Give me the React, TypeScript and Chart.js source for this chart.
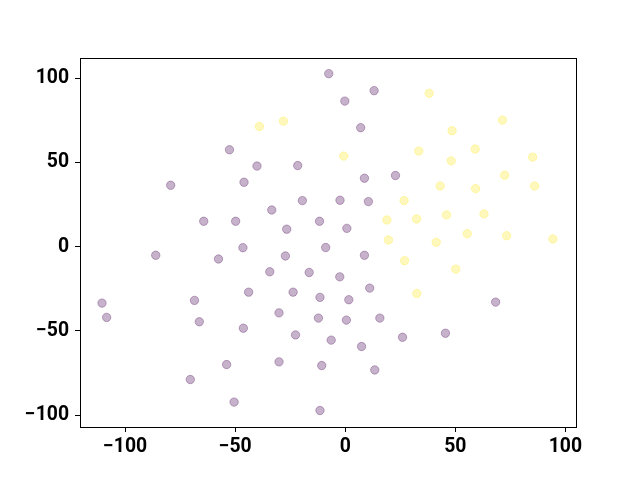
import React, { useEffect, useRef } from "react";
import { Chart, registerables } from "chart.js";

Chart.register(...registerables);

const purpleX = [-7.5, 13.1, -0.2, 7.0, -52.6, -40.1, -21.6, -79.3, -46.0, 8.7, 22.8, -19.5, -2.4, 10.5, -33.4, -64.3, -49.8, -11.7, -26.6, 0.7, -46.5, -8.9, -86.1, -57.6, -27.2, 8.7, -34.3, -16.4, -2.5, 11.1, -110.5, -108.4, -68.5, -66.3, -43.9, -23.7, -11.5, 1.6, 68.3, -30.1, -12.2, 0.5, 15.7, -46.3, -22.6, -6.4, 7.4, 26.0, 45.5, -53.9, -30.1, -10.7, 13.4, -70.4, -50.5, -11.5];
const purpleY = [102.8, 92.7, 86.5, 70.7, 57.6, 47.9, 48.2, 36.5, 38.3, 40.7, 42.3, 27.4, 27.6, 26.8, 21.8, 15.1, 15.1, 15.1, 10.4, 10.9, -0.6, -0.5, -5.1, -7.3, -5.5, -5.1, -14.9, -15.3, -17.9, -24.6, -33.5, -42.0, -31.9, -44.6, -27.0, -27.0, -30.1, -31.5, -32.9, -39.3, -42.4, -43.6, -42.4, -48.4, -52.4, -55.5, -59.3, -53.8, -51.4, -70.0, -68.4, -70.6, -73.2, -78.9, -92.3, -97.3];

const yellowX = [-39.0, -28.1, 38.1, 71.4, 48.5, -0.7, 33.4, 59.0, 48.1, 85.1, 72.4, 43.1, 59.2, 86.0, 26.7, 18.9, 32.4, 46.0, 63.0, 19.6, 41.3, 55.4, 73.3, 94.3, 26.9, 50.2, 32.5];
const yellowY = [71.4, 74.6, 91.1, 75.2, 68.9, 53.8, 56.8, 58.0, 51.0, 53.2, 42.5, 36.1, 34.5, 36.1, 27.4, 15.9, 16.5, 18.9, 19.5, 4.0, 2.6, 7.7, 6.5, 4.6, -8.3, -13.3, -27.8];

const xTicks = [-100, -50, 0, 50, 100];
const yTicks = [-100, -50, 0, 50, 100];

const fmt = (v: number) => (v < 0 ? "\u2212" + Math.abs(v) : String(v));

const frame = {
  id: "frame",
  afterDraw(chart: any) {
    const { ctx, chartArea } = chart;
    ctx.save();
    ctx.strokeStyle = "#000";
    ctx.lineWidth = 1;
    ctx.strokeRect(
      Math.round(chartArea.left) + 0.5,
      Math.round(chartArea.top) + 0.5,
      Math.round(chartArea.right - chartArea.left),
      Math.round(chartArea.bottom - chartArea.top)
    );
    ctx.restore();
  },
};

export default function App() {
  const ref = useRef<HTMLCanvasElement>(null);
  useEffect(() => {
    if (!ref.current) return;
    const font = { family: "Roboto", size: 19.4, weight: "bold" as const };
    const chart = new Chart(ref.current, {
      type: "scatter",
      data: {
        datasets: [
          {
            data: purpleX.map((x, i) => ({ x, y: purpleY[i] })),
            backgroundColor: "rgba(68,1,84,0.3)",
            borderColor: "rgba(68,1,84,0.3)",
            borderWidth: 1,
            pointRadius: 4.2,
          },
          {
            data: yellowX.map((x, i) => ({ x, y: yellowY[i] })),
            backgroundColor: "rgba(253,231,37,0.3)",
            borderColor: "rgba(253,231,37,0.3)",
            borderWidth: 1,
            pointRadius: 4.2,
          },
        ],
      },
      options: {
        animation: false,
        responsive: false,
        layout: { padding: { top: 58, right: 64, left: 0, bottom: 0 } },
        plugins: { legend: { display: false }, tooltip: { enabled: false } },
        scales: {
          x: {
            type: "linear",
            min: -120.5,
            max: 104.8,
            afterBuildTicks: (s: any) => {
              s.ticks = xTicks.map((v) => ({ value: v }));
            },
            afterFit: (s: any) => {
              s.height = 53;
            },
            ticks: { color: "#000", font, padding: 4, callback: (v: any) => fmt(Number(v)) },
            grid: { drawOnChartArea: false, drawTicks: true, tickLength: 5, color: "#000" },
            border: { display: true, color: "#000", width: 1 },
          },
          y: {
            type: "linear",
            min: -107.1,
            max: 112.1,
            afterBuildTicks: (s: any) => {
              s.ticks = yTicks.map((v) => ({ value: v }));
            },
            afterFit: (s: any) => {
              s.width = 80;
            },
            ticks: { color: "#000", font, padding: 6, callback: (v: any) => fmt(Number(v)) },
            grid: { drawOnChartArea: false, drawTicks: true, tickLength: 5, color: "#000" },
            border: { display: true, color: "#000", width: 1 },
          },
        },
      },
      plugins: [frame],
    });
    return () => chart.destroy();
  }, []);
  return (
    <div style={{ position: "fixed", left: 0, top: 0, width: 640, height: 480, background: "#fff" }}>
      <canvas ref={ref} width={640} height={480} style={{ width: 640, height: 480 }} />
    </div>
  );
}
